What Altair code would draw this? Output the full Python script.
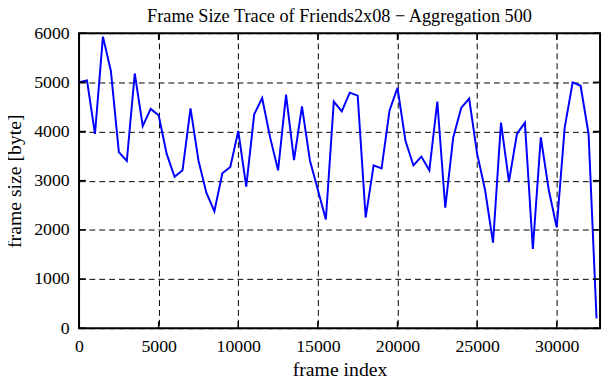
import altair as alt
import pandas as pd

frame_index = [0, 500, 1000, 1500, 2000, 2500, 3000, 3500, 4000, 4500,
               5000, 5500, 6000, 6500, 7000, 7500, 8000, 8500, 9000, 9500,
               10000, 10500, 11000, 11500, 12000, 12500, 13000, 13500, 14000, 14500,
               15000, 15500, 16000, 16500, 17000, 17500, 18000, 18500, 19000, 19500,
               20000, 20500, 21000, 21500, 22000, 22500, 23000, 23500, 24000, 24500,
               25000, 25500, 26000, 26500, 27000, 27500, 28000, 28500, 29000, 29500,
               30000, 30500, 31000, 31500, 32000, 32500]
frame_size = [5000, 5040, 3950, 5930, 5230, 3580, 3400, 5180, 4110, 4460,
              4330, 3550, 3080, 3210, 4470, 3410, 2750, 2380, 3150, 3280,
              4010, 2880, 4350, 4680, 3880, 3210, 4750, 3420, 4510, 3410,
              2810, 2210, 4610, 4410, 4790, 4730, 2250, 3310, 3250, 4430,
              4890, 3810, 3310, 3490, 3210, 4610, 2450, 3880, 4480, 4670,
              3550, 2810, 1740, 4180, 2980, 3950, 4180, 1610, 3880, 2810,
              2050, 4080, 5000, 4930, 3950, 200]
x_ticks = [0, 5000, 10000, 15000, 20000, 25000, 30000]
y_ticks = [0, 1000, 2000, 3000, 4000, 5000, 6000]

W, H = 528, 299
TL = 7
FONT = "Liberation Serif"
FS = 18
TFS = 20

df = pd.DataFrame({"frame": frame_index, "size": frame_size})
xs = alt.Scale(domain=[0, 32720], nice=False, zero=False)
ys = alt.Scale(domain=[0, 6000], nice=False)

grid_common = dict(grid=True, gridDash=[6, 4], gridColor="black", gridOpacity=1,
                   gridWidth=1, ticks=False, tickSize=0, domain=False,
                   labelFont=FONT, labelFontSize=FS, labelColor="black",
                   titleFont=FONT, titleFontSize=TFS, titleFontWeight="normal",
                   titleColor="black", format="d")

line = alt.Chart(df).mark_line(color="#0000ff", strokeWidth=2, clip=True).encode(
    x=alt.X("frame:Q", scale=xs,
            axis=alt.Axis(title="frame index", values=x_ticks, labelPadding=10,
                          titlePadding=4, labelFlush=False, **grid_common)),
    y=alt.Y("size:Q", scale=ys,
            axis=alt.Axis(title="frame size [byte]", values=y_ticks, labelPadding=10,
                          titlePadding=9, **grid_common)),
)

xt_df = pd.DataFrame({"frame": x_ticks})
yt_df = pd.DataFrame({"size": y_ticks})

xt_bottom = alt.Chart(xt_df).mark_rule(color="black", strokeWidth=1.5).encode(
    x=alt.X("frame:Q", scale=xs), y=alt.value(H), y2=alt.value(H - TL))
xt_top = alt.Chart(xt_df).mark_rule(color="black", strokeWidth=1.5).encode(
    x=alt.X("frame:Q", scale=xs), y=alt.value(0), y2=alt.value(TL))
yt_left = alt.Chart(yt_df).mark_rule(color="black", strokeWidth=1.5).encode(
    y=alt.Y("size:Q", scale=ys), x=alt.value(0), x2=alt.value(TL))
yt_right = alt.Chart(yt_df).mark_rule(color="black", strokeWidth=1.5).encode(
    y=alt.Y("size:Q", scale=ys), x=alt.value(W - TL), x2=alt.value(W))

chart = alt.layer(line, xt_bottom, xt_top, yt_left, yt_right).properties(
    width=W, height=H,
    background="white",
    title=alt.TitleParams("Frame Size Trace of Friends2x08 \u2212 Aggregation 500",
                          font=FONT, fontSize=18.5, fontWeight="normal",
                          color="black", anchor="middle", offset=-1),
    autosize=alt.AutoSizeParams(type="none"),
    padding={"left": 72, "top": 23, "right": 3, "bottom": 50},
).configure_view(stroke="black", strokeWidth=2)

chart.save("out.html", embed_options={"renderer": "svg", "actions": False})
